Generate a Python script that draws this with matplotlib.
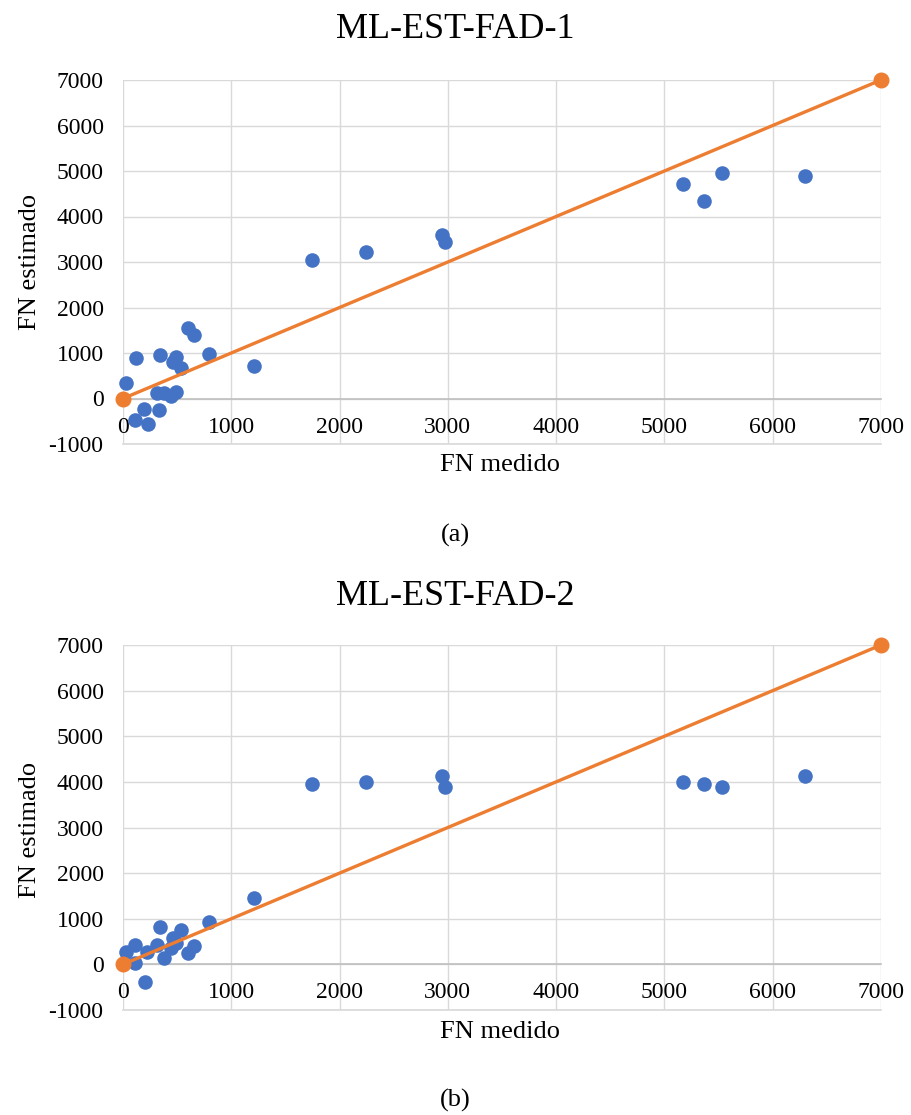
import matplotlib.pyplot as plt

plt.rcParams['font.family'] = ['Liberation Serif', 'DejaVu Serif']
plt.rcParams['axes.unicode_minus'] = False

# --- datos: FN medido vs FN estimado ---
fn_medido_1 = [28, 108, 120, 191, 231, 310, 330, 339, 377, 439, 463, 487, 487,
               534, 596, 654, 797, 1212, 1741, 2247, 2944, 2977, 5167, 5367,
               5530, 6302]
fn_estimado_1 = [340, -470, 880, -230, -570, 110, -260, 950, 120, 50, 800, 920,
                 140, 660, 1560, 1400, 980, 710, 3040, 3210, 3590, 3450, 4720,
                 4340, 4960, 4880]

fn_medido_2 = [24, 115, 115, 200, 224, 310, 343, 377, 439, 463, 487, 534, 596,
               654, 797, 1212, 1741, 2247, 2944, 2977, 5167, 5367, 5530, 6302]
fn_estimado_2 = [270, 420, 20, -390, 280, 420, 830, 130, 350, 570, 460, 760,
                 260, 410, 920, 1460, 3950, 3990, 4130, 3880, 3990, 3950, 3880,
                 4120]

# linea ideal y = x
ideal_x = [0, 7000]
ideal_y = [0, 7000]

titulos = ['ML-EST-FAD-1', 'ML-EST-FAD-2']
rotulos = ['(a)', '(b)']
ticks = list(range(0, 8000, 1000))
yticks = list(range(-1000, 8000, 1000))

AZUL = '#4472C4'
NARANJA = '#ED7D31'
GRIS = '#D9D9D9'

W, H = 911, 1115
fig = plt.figure(figsize=(W / 100, H / 100), dpi=100)


def fx(px):
    return px / W


def fy(px):
    return 1 - px / H


paneles = [
    (fn_medido_1, fn_estimado_1, 80, 444, 30, 465, 262, 535),
    (fn_medido_2, fn_estimado_2, 645, 1010, 597, 1032, 830, 1100),
]

for i, (xs, ys, top, bot, t_y, xl_y, yl_y, cap_y) in enumerate(paneles):
    ax = fig.add_axes([fx(123), fy(bot), fx(881) - fx(123), fy(top) - fy(bot)])
    ax.set_xlim(0, 7000)
    ax.set_ylim(-1000, 7000)
    ax.set_xticks(ticks)
    ax.set_yticks(yticks)
    ax.grid(True, color=GRIS, linewidth=1.0)
    ax.set_axisbelow(True)
    # borde inferior del area de trazado (y = -1000)
    ax.axhline(-1000, color=GRIS, linewidth=1.2, clip_on=False, zorder=0.5)

    for s in ['top', 'right', 'left']:
        ax.spines[s].set_visible(False)
    # eje horizontal cruzando en y = 0
    ax.spines['bottom'].set_position(('data', 0))
    ax.spines['bottom'].set_color('#BFBFBF')
    ax.spines['bottom'].set_linewidth(1.2)

    ax.tick_params(axis='both', length=0, labelsize=17)
    ax.tick_params(axis='x', pad=13)
    ax.tick_params(axis='y', pad=14)

    ax.scatter(xs, ys, s=110, color=AZUL, zorder=3, clip_on=False,
               linewidths=0)
    ax.plot(ideal_x, ideal_y, color=NARANJA, linewidth=2.4, marker='o',
            markersize=10.5, zorder=4, clip_on=False)

    fig.text(0.5, fy(t_y), titulos[i], ha='center', va='center', fontsize=26)
    fig.text(fx(500), fy(xl_y), 'FN medido', ha='center', va='center',
             fontsize=19)
    fig.text(fx(30), fy(yl_y), 'FN estimado', ha='center', va='center',
             rotation=90, fontsize=19)
    fig.text(fx(455), fy(cap_y), rotulos[i], ha='center', va='center',
             fontsize=19)

fig.savefig('out.png', dpi=100)
